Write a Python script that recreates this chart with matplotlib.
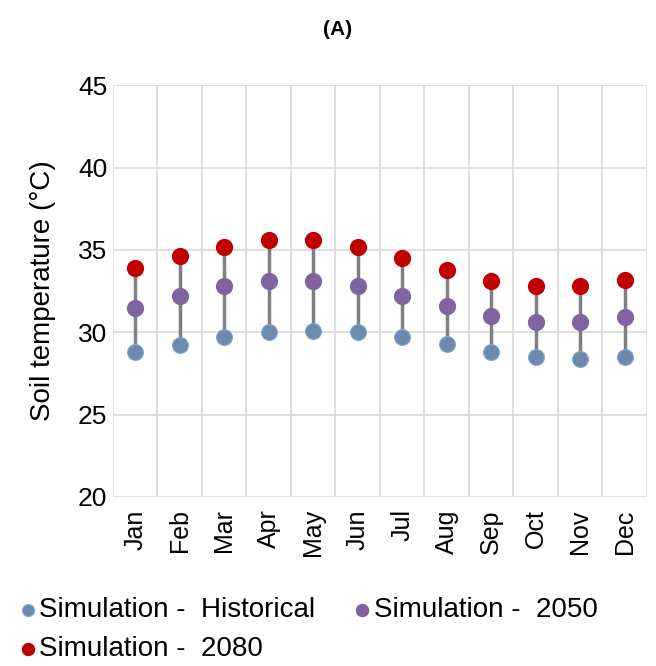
import numpy as np
import matplotlib.pyplot as plt

plt.rcParams['font.family'] = ['Liberation Sans', 'DejaVu Sans']

months = ['Jan', 'Feb', 'Mar', 'Apr', 'May', 'Jun',
          'Jul', 'Aug', 'Sep', 'Oct', 'Nov', 'Dec']
hist = [28.8, 29.2, 29.7, 30.0, 30.1, 30.0, 29.7, 29.3, 28.8, 28.5, 28.4, 28.5]
sim2050 = [31.5, 32.2, 32.8, 33.1, 33.1, 32.8, 32.2, 31.6, 31.0, 30.6, 30.6, 30.9]
sim2080 = [33.9, 34.6, 35.2, 35.6, 35.6, 35.2, 34.5, 33.8, 33.1, 32.8, 32.8, 33.2]

x = np.arange(len(months))

fig = plt.figure(figsize=(6.56, 6.66), dpi=100)
ax = fig.add_axes([0.172, 0.254, 0.814, 0.618])

# connecting lines from lowest to highest
ax.vlines(x, hist, sim2080, color='#7f7f7f', lw=2.5, zorder=2)
h1 = ax.scatter(x, hist, s=130, color='#6d8aad', edgecolors='#7fa6d6', linewidths=0.8, zorder=3)
h2 = ax.scatter(x, sim2050, s=130, color='#8064a2', zorder=3)
h3 = ax.scatter(x, sim2080, s=130, color='#c00000', zorder=3)

ax.set_xlim(-0.5, 11.5)
ax.set_ylim(20, 45)
ax.set_yticks([20, 25, 30, 35, 40, 45])
ax.set_xticks(x)
ax.set_xticklabels(months, rotation=90, fontsize=18)
ax.set_xticks(np.arange(-0.5, 12, 1), minor=True)
ax.tick_params(axis='y', labelsize=19, length=0, pad=4)
ax.tick_params(axis='x', which='both', length=0, pad=9)
ax.grid(True, axis='y', color='#d9d9d9', lw=1.2)
ax.grid(True, axis='x', which='minor', color='#d9d9d9', lw=1.2)
ax.set_axisbelow(True)
for s in ax.spines.values():
    s.set_visible(False)
ax.set_ylabel('Soil temperature (°C)', fontsize=20)
ax.yaxis.set_label_coords(-0.106, 0.5)

fig.text(0.515, 0.955, '(A)', ha='center', va='center', fontsize=15, fontweight='bold')

fig.legend([h1, h3, h2],
           ['Simulation -  Historical', 'Simulation -  2080', 'Simulation -  2050'],
           ncol=2, loc='upper left', bbox_to_anchor=(0.03, 0.103),
           frameon=False, fontsize=20, markerscale=0.76, handlelength=0.6,
           handletextpad=0.1, columnspacing=1.4, labelspacing=0.45,
           borderaxespad=0, borderpad=0)

fig.savefig('out.png', dpi=100)
